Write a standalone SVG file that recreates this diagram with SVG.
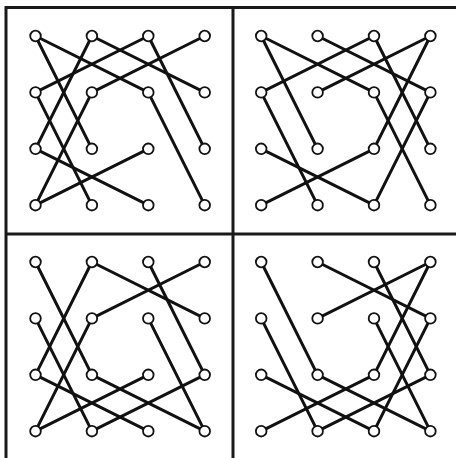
<svg xmlns="http://www.w3.org/2000/svg" width="456" height="458" viewBox="0 0 456 458">
<style>
.frame{fill:none;stroke:#1a1a1a;stroke-width:3}
.e{stroke:#111;stroke-width:3;stroke-linecap:round}
.n{fill:#fff;stroke:#111;stroke-width:1.8}
</style>
<rect width="456" height="458" fill="#fff"/>
<g id="frame">
<rect class="frame" x="6" y="7.5" width="454" height="453"/>
<line class="frame" x1="233" y1="7.5" x2="233" y2="460.5"/>
<line class="frame" x1="6" y1="234" x2="460" y2="234"/>
</g>
<g id="connectors">
<g id="edges-p1">
<line class="e" x1="35.5" y1="36" x2="148.3" y2="92.4"/>
<line class="e" x1="35.5" y1="36" x2="91.9" y2="148.8"/>
<line class="e" x1="91.9" y1="36" x2="204.7" y2="92.4"/>
<line class="e" x1="91.9" y1="36" x2="35.5" y2="148.8"/>
<line class="e" x1="148.3" y1="36" x2="35.5" y2="92.4"/>
<line class="e" x1="148.3" y1="36" x2="204.7" y2="148.8"/>
<line class="e" x1="204.7" y1="36" x2="91.9" y2="92.4"/>
<line class="e" x1="35.5" y1="92.4" x2="91.9" y2="205.2"/>
<line class="e" x1="91.9" y1="92.4" x2="35.5" y2="205.2"/>
<line class="e" x1="148.3" y1="92.4" x2="204.7" y2="205.2"/>
<line class="e" x1="35.5" y1="148.8" x2="148.3" y2="205.2"/>
<line class="e" x1="148.3" y1="148.8" x2="35.5" y2="205.2"/>
</g>
<g id="edges-p2">
<line class="e" x1="261.2" y1="36" x2="374" y2="92.4"/>
<line class="e" x1="261.2" y1="36" x2="317.6" y2="148.8"/>
<line class="e" x1="317.6" y1="36" x2="430.4" y2="92.4"/>
<line class="e" x1="374" y1="36" x2="261.2" y2="92.4"/>
<line class="e" x1="374" y1="36" x2="430.4" y2="148.8"/>
<line class="e" x1="430.4" y1="36" x2="317.6" y2="92.4"/>
<line class="e" x1="430.4" y1="36" x2="374" y2="148.8"/>
<line class="e" x1="261.2" y1="92.4" x2="317.6" y2="205.2"/>
<line class="e" x1="374" y1="92.4" x2="430.4" y2="205.2"/>
<line class="e" x1="430.4" y1="92.4" x2="374" y2="205.2"/>
<line class="e" x1="261.2" y1="148.8" x2="374" y2="205.2"/>
<line class="e" x1="374" y1="148.8" x2="261.2" y2="205.2"/>
</g>
<g id="edges-p3">
<line class="e" x1="35.5" y1="262" x2="91.9" y2="374.8"/>
<line class="e" x1="91.9" y1="262" x2="204.7" y2="318.4"/>
<line class="e" x1="91.9" y1="262" x2="35.5" y2="374.8"/>
<line class="e" x1="148.3" y1="262" x2="204.7" y2="374.8"/>
<line class="e" x1="204.7" y1="262" x2="91.9" y2="318.4"/>
<line class="e" x1="35.5" y1="318.4" x2="91.9" y2="431.2"/>
<line class="e" x1="91.9" y1="318.4" x2="35.5" y2="431.2"/>
<line class="e" x1="148.3" y1="318.4" x2="204.7" y2="431.2"/>
<line class="e" x1="35.5" y1="374.8" x2="148.3" y2="431.2"/>
<line class="e" x1="91.9" y1="374.8" x2="204.7" y2="431.2"/>
<line class="e" x1="148.3" y1="374.8" x2="35.5" y2="431.2"/>
<line class="e" x1="204.7" y1="374.8" x2="91.9" y2="431.2"/>
</g>
<g id="edges-p4">
<line class="e" x1="261.2" y1="262" x2="317.6" y2="374.8"/>
<line class="e" x1="317.6" y1="262" x2="430.4" y2="318.4"/>
<line class="e" x1="374" y1="262" x2="430.4" y2="374.8"/>
<line class="e" x1="430.4" y1="262" x2="317.6" y2="318.4"/>
<line class="e" x1="430.4" y1="262" x2="374" y2="374.8"/>
<line class="e" x1="261.2" y1="318.4" x2="317.6" y2="431.2"/>
<line class="e" x1="374" y1="318.4" x2="430.4" y2="431.2"/>
<line class="e" x1="430.4" y1="318.4" x2="374" y2="431.2"/>
<line class="e" x1="261.2" y1="374.8" x2="374" y2="431.2"/>
<line class="e" x1="317.6" y1="374.8" x2="430.4" y2="431.2"/>
<line class="e" x1="374" y1="374.8" x2="261.2" y2="431.2"/>
<line class="e" x1="430.4" y1="374.8" x2="317.6" y2="431.2"/>
</g>
</g>
<g id="nodes-p1">
<g id="p1-00"><circle class="n" cx="35.5" cy="36" r="5.3"/></g>
<g id="p1-10"><circle class="n" cx="91.9" cy="36" r="5.3"/></g>
<g id="p1-20"><circle class="n" cx="148.3" cy="36" r="5.3"/></g>
<g id="p1-30"><circle class="n" cx="204.7" cy="36" r="5.3"/></g>
<g id="p1-01"><circle class="n" cx="35.5" cy="92.4" r="5.3"/></g>
<g id="p1-11"><circle class="n" cx="91.9" cy="92.4" r="5.3"/></g>
<g id="p1-21"><circle class="n" cx="148.3" cy="92.4" r="5.3"/></g>
<g id="p1-31"><circle class="n" cx="204.7" cy="92.4" r="5.3"/></g>
<g id="p1-02"><circle class="n" cx="35.5" cy="148.8" r="5.3"/></g>
<g id="p1-12"><circle class="n" cx="91.9" cy="148.8" r="5.3"/></g>
<g id="p1-22"><circle class="n" cx="148.3" cy="148.8" r="5.3"/></g>
<g id="p1-32"><circle class="n" cx="204.7" cy="148.8" r="5.3"/></g>
<g id="p1-03"><circle class="n" cx="35.5" cy="205.2" r="5.3"/></g>
<g id="p1-13"><circle class="n" cx="91.9" cy="205.2" r="5.3"/></g>
<g id="p1-23"><circle class="n" cx="148.3" cy="205.2" r="5.3"/></g>
<g id="p1-33"><circle class="n" cx="204.7" cy="205.2" r="5.3"/></g>
</g>
<g id="nodes-p2">
<g id="p2-00"><circle class="n" cx="261.2" cy="36" r="5.3"/></g>
<g id="p2-10"><circle class="n" cx="317.6" cy="36" r="5.3"/></g>
<g id="p2-20"><circle class="n" cx="374" cy="36" r="5.3"/></g>
<g id="p2-30"><circle class="n" cx="430.4" cy="36" r="5.3"/></g>
<g id="p2-01"><circle class="n" cx="261.2" cy="92.4" r="5.3"/></g>
<g id="p2-11"><circle class="n" cx="317.6" cy="92.4" r="5.3"/></g>
<g id="p2-21"><circle class="n" cx="374" cy="92.4" r="5.3"/></g>
<g id="p2-31"><circle class="n" cx="430.4" cy="92.4" r="5.3"/></g>
<g id="p2-02"><circle class="n" cx="261.2" cy="148.8" r="5.3"/></g>
<g id="p2-12"><circle class="n" cx="317.6" cy="148.8" r="5.3"/></g>
<g id="p2-22"><circle class="n" cx="374" cy="148.8" r="5.3"/></g>
<g id="p2-32"><circle class="n" cx="430.4" cy="148.8" r="5.3"/></g>
<g id="p2-03"><circle class="n" cx="261.2" cy="205.2" r="5.3"/></g>
<g id="p2-13"><circle class="n" cx="317.6" cy="205.2" r="5.3"/></g>
<g id="p2-23"><circle class="n" cx="374" cy="205.2" r="5.3"/></g>
<g id="p2-33"><circle class="n" cx="430.4" cy="205.2" r="5.3"/></g>
</g>
<g id="nodes-p3">
<g id="p3-00"><circle class="n" cx="35.5" cy="262" r="5.3"/></g>
<g id="p3-10"><circle class="n" cx="91.9" cy="262" r="5.3"/></g>
<g id="p3-20"><circle class="n" cx="148.3" cy="262" r="5.3"/></g>
<g id="p3-30"><circle class="n" cx="204.7" cy="262" r="5.3"/></g>
<g id="p3-01"><circle class="n" cx="35.5" cy="318.4" r="5.3"/></g>
<g id="p3-11"><circle class="n" cx="91.9" cy="318.4" r="5.3"/></g>
<g id="p3-21"><circle class="n" cx="148.3" cy="318.4" r="5.3"/></g>
<g id="p3-31"><circle class="n" cx="204.7" cy="318.4" r="5.3"/></g>
<g id="p3-02"><circle class="n" cx="35.5" cy="374.8" r="5.3"/></g>
<g id="p3-12"><circle class="n" cx="91.9" cy="374.8" r="5.3"/></g>
<g id="p3-22"><circle class="n" cx="148.3" cy="374.8" r="5.3"/></g>
<g id="p3-32"><circle class="n" cx="204.7" cy="374.8" r="5.3"/></g>
<g id="p3-03"><circle class="n" cx="35.5" cy="431.2" r="5.3"/></g>
<g id="p3-13"><circle class="n" cx="91.9" cy="431.2" r="5.3"/></g>
<g id="p3-23"><circle class="n" cx="148.3" cy="431.2" r="5.3"/></g>
<g id="p3-33"><circle class="n" cx="204.7" cy="431.2" r="5.3"/></g>
</g>
<g id="nodes-p4">
<g id="p4-00"><circle class="n" cx="261.2" cy="262" r="5.3"/></g>
<g id="p4-10"><circle class="n" cx="317.6" cy="262" r="5.3"/></g>
<g id="p4-20"><circle class="n" cx="374" cy="262" r="5.3"/></g>
<g id="p4-30"><circle class="n" cx="430.4" cy="262" r="5.3"/></g>
<g id="p4-01"><circle class="n" cx="261.2" cy="318.4" r="5.3"/></g>
<g id="p4-11"><circle class="n" cx="317.6" cy="318.4" r="5.3"/></g>
<g id="p4-21"><circle class="n" cx="374" cy="318.4" r="5.3"/></g>
<g id="p4-31"><circle class="n" cx="430.4" cy="318.4" r="5.3"/></g>
<g id="p4-02"><circle class="n" cx="261.2" cy="374.8" r="5.3"/></g>
<g id="p4-12"><circle class="n" cx="317.6" cy="374.8" r="5.3"/></g>
<g id="p4-22"><circle class="n" cx="374" cy="374.8" r="5.3"/></g>
<g id="p4-32"><circle class="n" cx="430.4" cy="374.8" r="5.3"/></g>
<g id="p4-03"><circle class="n" cx="261.2" cy="431.2" r="5.3"/></g>
<g id="p4-13"><circle class="n" cx="317.6" cy="431.2" r="5.3"/></g>
<g id="p4-23"><circle class="n" cx="374" cy="431.2" r="5.3"/></g>
<g id="p4-33"><circle class="n" cx="430.4" cy="431.2" r="5.3"/></g>
</g>
</svg>
